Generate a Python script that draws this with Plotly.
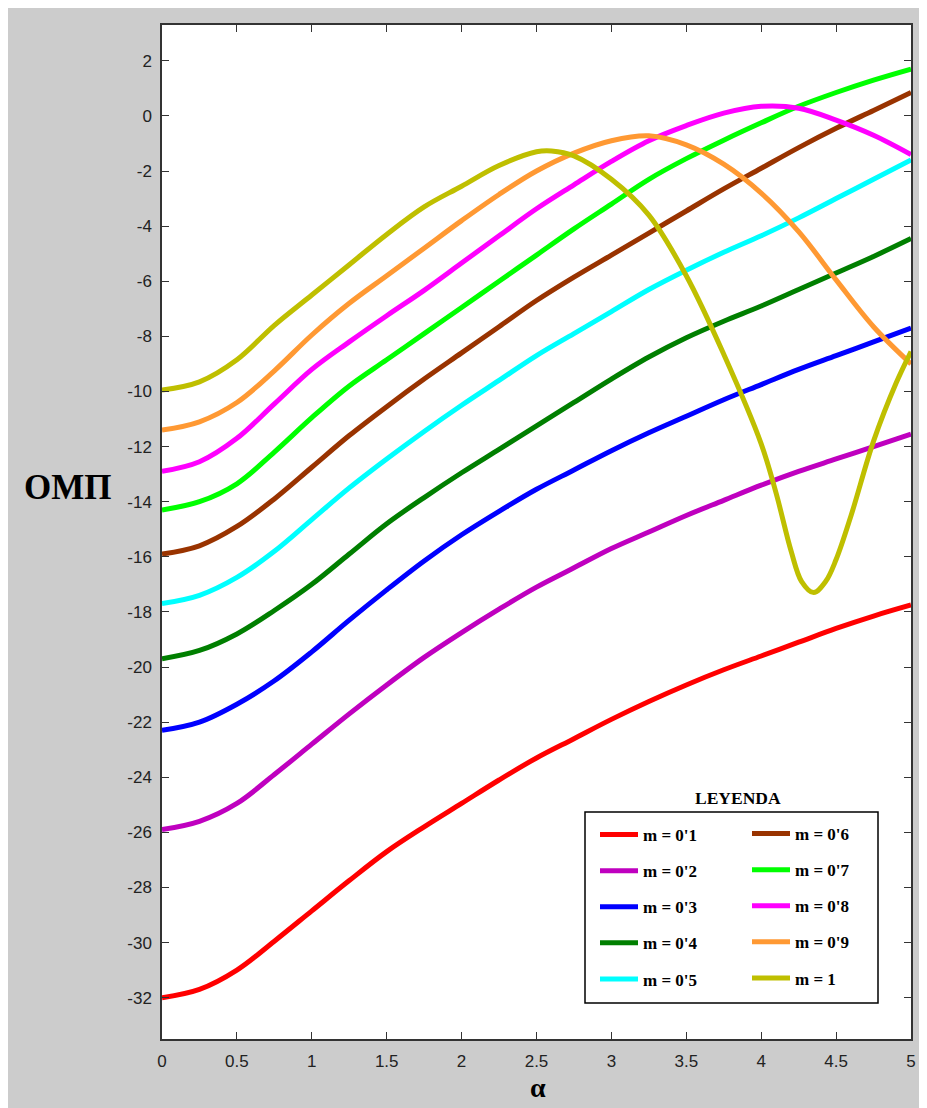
import plotly.graph_objects as go

# ---------------- data ----------------
X = [0, 0.25, 0.5, 0.75, 1.0, 1.25, 1.5, 1.75, 2.0, 2.25, 2.5,
     2.75, 3.0, 3.25, 3.5, 3.75, 4.0, 4.25, 4.5, 4.75, 5.0]

Y_01 = [-32.0, -31.7, -31.0, -29.95, -28.85, -27.75, -26.7, -25.8, -24.95, -24.1, -23.3,
        -22.6, -21.9, -21.25, -20.65, -20.1, -19.6, -19.1, -18.6, -18.15, -17.75]
Y_02 = [-25.9, -25.6, -24.95, -23.9, -22.8, -21.7, -20.65, -19.65, -18.75, -17.9, -17.1,
        -16.4, -15.7, -15.1, -14.5, -13.95, -13.4, -12.9, -12.45, -12.0, -11.55]
Y_03 = [-22.3, -22.0, -21.35, -20.5, -19.45, -18.3, -17.2, -16.15, -15.2, -14.35, -13.55,
        -12.85, -12.15, -11.5, -10.9, -10.3, -9.75, -9.2, -8.7, -8.2, -7.7]
Y_04 = [-19.7, -19.4, -18.8, -17.95, -17.0, -15.9, -14.8, -13.85, -12.95, -12.1, -11.25,
        -10.4, -9.55, -8.75, -8.05, -7.45, -6.9, -6.3, -5.7, -5.1, -4.45]
Y_05 = [-17.7, -17.4, -16.75, -15.8, -14.65, -13.5, -12.45, -11.45, -10.5, -9.6, -8.7,
        -7.9, -7.1, -6.3, -5.6, -4.95, -4.35, -3.7, -3.0, -2.3, -1.6]
Y_06 = [-15.9, -15.6, -14.9, -13.9, -12.75, -11.6, -10.55, -9.55, -8.6, -7.65, -6.7,
        -5.85, -5.05, -4.25, -3.45, -2.65, -1.9, -1.15, -0.45, 0.2, 0.85]
Y_07 = [-14.3, -14.0, -13.35, -12.2, -10.95, -9.8, -8.85, -7.9, -6.95, -6.0, -5.05,
        -4.1, -3.2, -2.3, -1.55, -0.88, -0.25, 0.35, 0.85, 1.3, 1.7]
Y_08 = [-12.9, -12.55, -11.7, -10.45, -9.2, -8.2, -7.25, -6.33, -5.34, -4.35, -3.37,
        -2.5, -1.65, -0.9, -0.35, 0.1, 0.35, 0.28, -0.15, -0.7, -1.4]
Y_09 = [-11.4, -11.1, -10.4, -9.25, -7.95, -6.8, -5.8, -4.8, -3.8, -2.85, -2.0,
        -1.35, -0.9, -0.72, -1.05, -1.75, -2.8, -4.2, -5.95, -7.65, -9.0]

X_10 = [0, 0.25, 0.5, 0.75, 1.0, 1.25, 1.5, 1.75, 2.0, 2.25, 2.5, 2.6, 2.75,
        3.0, 3.25, 3.5, 3.75, 4.0, 4.1, 4.2, 4.27, 4.35, 4.43, 4.5, 4.6, 4.75, 4.9, 5.0]
Y_10 = [-9.95, -9.65, -8.85, -7.6, -6.5, -5.4, -4.3, -3.3, -2.55, -1.8, -1.3, -1.27, -1.45,
        -2.3, -3.6, -5.8, -8.65, -11.9, -13.7, -15.8, -16.9, -17.3, -16.9, -16.1, -14.5,
        -11.8, -9.7, -8.55]

LABELS = ["m = 0'1", "m = 0'2", "m = 0'3", "m = 0'4", "m = 0'5",
          "m = 0'6", "m = 0'7", "m = 0'8", "m = 0'9", "m = 1"]

X_TICKS = [0, 0.5, 1, 1.5, 2, 2.5, 3, 3.5, 4, 4.5, 5]
X_TICKTEXT = ["0", "0.5", "1", "1.5", "2", "2.5", "3", "3.5", "4", "4.5", "5"]
Y_TICKS = list(range(-32, 3, 2))
Y_TICKTEXT = [str(v) for v in Y_TICKS]  # plain hyphen minus, as in the original

# ---------------- styles ----------------
COLORS = ["#ff0000", "#bf00bf", "#0000ff", "#007f00", "#00ffff",
          "#993300", "#00ff00", "#ff00ff", "#ff9933", "#bfbf00"]

series = [(X, Y_01), (X, Y_02), (X, Y_03), (X, Y_04), (X, Y_05),
          (X, Y_06), (X, Y_07), (X, Y_08), (X, Y_09), (X_10, Y_10)]

fig = go.Figure()
for i, ((xs, ys), lab, col) in enumerate(zip(series, LABELS, COLORS)):
    fig.add_trace(go.Scatter(
        x=xs, y=ys, mode="lines", name=lab,
        line=dict(color=col, width=5, shape="spline", smoothing=1.0),
        legendgroup=lab,
        legend="legend" if i < 5 else "legend2",
        showlegend=True,
    ))

# figure is placed by the page at an 8px offset (body margin)
OFF = 8
W, H = 919, 1100
ML, MR, MT, MB = 154, 16, 17, 69
PW, PH = W - ML - MR, H - MT - MB


def px(xp):
    """window pixel x -> paper x"""
    return (xp - OFF - ML) / PW


def py(yp):
    """window pixel y -> paper y"""
    return (H - MB - (yp - OFF)) / PH


tickfont = dict(family="Liberation Sans, Arial, sans-serif", size=17, color="#222222")
axis_common = dict(
    showline=True, linecolor="#333333", linewidth=1.5, mirror="ticks",
    ticks="inside", ticklen=7, tickwidth=1, tickcolor="#333333",
    showgrid=False, zeroline=False, tickfont=tickfont,
)

legend_common = dict(
    xanchor="left", yanchor="top", bgcolor="rgba(0,0,0,0)", borderwidth=0,
    font=dict(family="Liberation Serif, Times New Roman, serif", size=17,
              color="black", weight="bold"),
    tracegroupgap=11, orientation="v", itemwidth=38,
)

fig.update_layout(
    width=W, height=H,
    margin=dict(l=ML, r=MR, t=MT, b=MB, pad=0),
    paper_bgcolor="#cccccc",
    plot_bgcolor="white",
    xaxis=dict(range=[0, 5], tickvals=X_TICKS, ticktext=X_TICKTEXT,
               ticklabelstandoff=6, **axis_common),
    yaxis=dict(range=[-33.5, 3.3], tickvals=Y_TICKS, ticktext=Y_TICKTEXT,
               ticklabelstandoff=5, **axis_common),
    legend=dict(x=px(595), y=py(817), **legend_common),
    legend2=dict(x=px(747), y=py(816), **legend_common),
    shapes=[
        dict(type="rect", xref="paper", yref="paper",
             x0=px(585), x1=px(878), y0=py(1003), y1=py(812),
             line=dict(color="black", width=1.5), fillcolor="white", layer="above"),
    ],
    annotations=[
        dict(text="<b>OMΠ</b>", xref="paper", yref="paper", x=px(67), y=py(487),
             showarrow=False, xanchor="center", yanchor="middle",
             font=dict(family="Liberation Serif, Times New Roman, serif", size=35, color="black")),
        dict(text="<b>α</b>", xref="paper", yref="paper", x=px(538), y=py(1087),
             showarrow=False, xanchor="center", yanchor="middle",
             font=dict(family="Liberation Serif, Times New Roman, serif", size=28, color="black")),
        dict(text="<b>LEYENDA</b>", xref="paper", yref="paper", x=px(738), y=py(798),
             showarrow=False, xanchor="center", yanchor="middle",
             font=dict(family="Liberation Serif, Times New Roman, serif", size=17.5, color="black")),
    ],
)

fig.write_html("out.html")
